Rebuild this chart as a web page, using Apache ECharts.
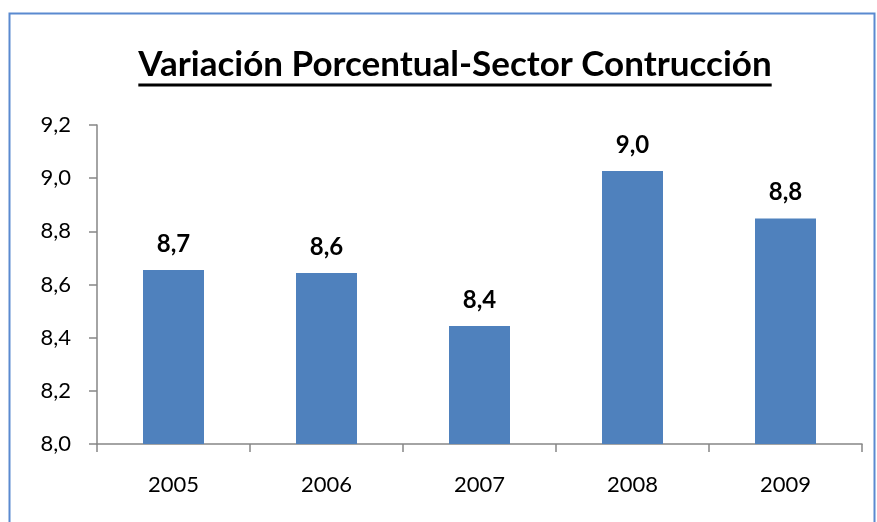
<!DOCTYPE html>
<html>
<head>
<meta charset="utf-8">
<script src="https://cdn.jsdelivr.net/npm/echarts@6/dist/echarts.min.js"></script>
<style>
  html, body { margin: 0; padding: 0; background: #fff; }
  #chart { width: 877px; height: 522px; }
</style>
</head>
<body>
<div id="chart"></div>
<script>
const years = ['2005', '2006', '2007', '2008', '2009']
const values = [8.655, 8.643, 8.444, 9.027, 8.848]
const titleText = 'Variación Porcentual-Sector Contrucción'

const fmt = v => v.toFixed(1).replace('.', ',')
const axisGray = '#868686'
const titleFont = 'bold 35px Lato'

const chart = echarts.init(document.getElementById('chart'), null, { renderer: 'canvas' })

// measure title so the underline matches it
const ctx = document.createElement('canvas').getContext('2d')
ctx.font = titleFont
const titleWidth = ctx.measureText(titleText).width
const titleCenter = 455
const titleLeft = titleCenter - titleWidth / 2

chart.setOption({
    animation: false,
    textStyle: { fontFamily: 'Lato' },
    title: {
        text: titleText,
        left: titleLeft,
        top: 47,
        padding: 0,
        textStyle: { fontSize: 35, fontWeight: 'bold', color: '#000', fontFamily: 'Lato' }
    },
    graphic: [
        {
            type: 'rect',
            shape: { x: 9.5, y: 13.5, width: 865, height: 530 },
            style: { fill: 'none', stroke: '#5a8ad0', lineWidth: 2 },
            silent: true
        },
        {
            type: 'line',
            shape: { x1: titleLeft, y1: 85, x2: titleLeft + titleWidth, y2: 85 },
            style: { stroke: '#000', lineWidth: 3 },
            silent: true
        }
    ],
    grid: { left: 97, right: 15, top: 125, bottom: 78 },
    xAxis: {
        type: 'category',
        data: years,
        axisLine: { lineStyle: { color: axisGray, width: 1.5 } },
        axisTick: { show: true, length: 8, lineStyle: { color: axisGray, width: 1.5 } },
        axisLabel: { color: '#000', fontSize: 22, margin: 30 }
    },
    yAxis: {
        type: 'value',
        min: 8.0,
        max: 9.2,
        interval: 0.2,
        splitLine: { show: false },
        axisLine: { show: true, lineStyle: { color: axisGray, width: 1.5 } },
        axisTick: { show: true, length: 8, lineStyle: { color: axisGray, width: 1.5 } },
        axisLabel: { color: '#000', fontSize: 22, margin: 26, formatter: v => fmt(v) }
    },
    series: [{
        type: 'bar',
        data: values,
        barWidth: 61,
        itemStyle: { color: '#4f81bd' },
        label: {
            show: true,
            position: 'top',
            distance: 14,
            color: '#000',
            fontSize: 24,
            fontWeight: 'bold',
            formatter: p => fmt(p.value)
        }
    }]
})
</script>
</body>
</html>
